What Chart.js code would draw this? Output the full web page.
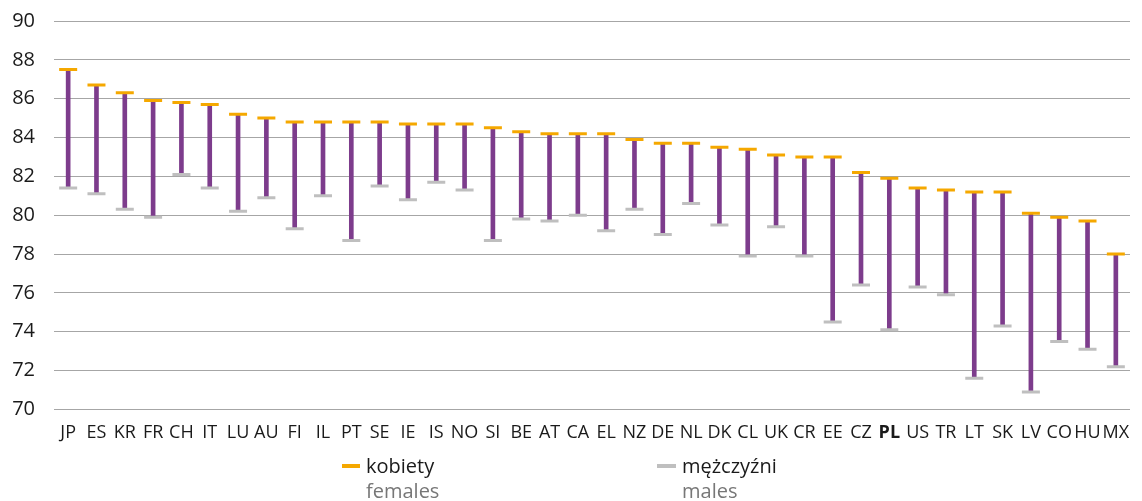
<!DOCTYPE html>
<html>
<head>
<meta charset="utf-8">
<script src="https://cdn.jsdelivr.net/npm/chart.js@4"></script>
<style>
  html, body { margin: 0; padding: 0; background: #ffffff; }
  body { width: 1142px; height: 501px; position: relative; overflow: hidden; font-family: "Open Sans", sans-serif; }
  #wrap { position: absolute; left: 0; top: 0; width: 1142px; height: 501px; }
  .key { position: absolute; font-size: 20px; line-height: 25px; color: #1a1a1a; white-space: nowrap; }
  .key .mark { position: absolute; top: 11px; height: 4px; }
  .key .sub { color: #777777; }
</style>
</head>
<body>
<div id="wrap"><canvas id="chart"></canvas></div>
<div class="key" style="left:366px; top:453px;"><span class="mark" style="left:-24px; width:18px; background:#F5A800"></span>kobiety<br><span class="sub">females</span></div>
<div class="key" style="left:682px; top:453px;"><span class="mark" style="left:-25px; width:19px; background:#BFBFBF"></span>mężczyźni<br><span class="sub">males</span></div>
<script>
// Life expectancy at birth by country: females vs males
const countries = ["JP","ES","KR","FR","CH","IT","LU","AU","FI","IL","PT","SE","IE","IS","NO","SI","BE","AT","CA","EL","NZ","DE","NL","DK","CL","UK","CR","EE","CZ","PL","US","TR","LT","SK","LV","CO","HU","MX"];
const females = [87.5,86.7,86.3,85.9,85.8,85.7,85.2,85.0,84.8,84.8,84.8,84.8,84.7,84.7,84.7,84.5,84.3,84.2,84.2,84.2,83.9,83.7,83.7,83.5,83.4,83.1,83.0,83.0,82.2,81.9,81.4,81.3,81.2,81.2,80.1,79.9,79.7,78.0];
const males = [81.4,81.1,80.3,79.9,82.1,81.4,80.2,80.9,79.3,81.0,78.7,81.5,80.8,81.7,81.3,78.7,79.8,79.7,80.0,79.2,80.3,79.0,80.6,79.5,77.9,79.4,77.9,74.5,76.4,74.1,76.3,75.9,71.6,74.3,70.9,73.5,73.1,72.2];
const yTicks = [70,72,74,76,78,80,82,84,86,88,90];

// gap between the two values, drawn as a thin floating bar
const gapRanges = countries.map((c, i) => [males[i], females[i]]);

new Chart(document.getElementById('chart'), {
  type: 'bar',
  data: {
    labels: countries,
    datasets: [
      {
        type: 'line',
        label: 'kobiety',
        data: females,
        showLine: false,
        pointStyle: 'line',
        pointRadius: 9,
        pointBorderWidth: 3,
        pointBorderColor: '#F5A800',
        pointBackgroundColor: '#F5A800',
        order: 1
      },
      {
        type: 'line',
        label: 'mężczyźni',
        data: males,
        showLine: false,
        pointStyle: 'line',
        pointRadius: 9,
        pointBorderWidth: 3,
        pointBorderColor: '#BFBFBF',
        pointBackgroundColor: '#BFBFBF',
        order: 2
      },
      {
        type: 'bar',
        label: 'range',
        data: gapRanges,
        backgroundColor: '#7D3C8C',
        borderWidth: 0,
        borderSkipped: false,
        barThickness: 4,
        order: 3
      }
    ]
  },
  options: {
    responsive: true,
    maintainAspectRatio: false,
    animation: false,
    layout: { padding: { top: 21, right: 6, left: 0, bottom: 52 } },
    plugins: {
      legend: { display: false },
      tooltip: { enabled: false }
    },
    scales: {
      x: {
        grid: { display: false },
        border: { display: false },
        afterFit: (s) => { s.paddingLeft = 0; s.paddingRight = 0; },
        ticks: {
          color: '#1a1a1a',
          padding: 5,
          maxRotation: 0,
          autoSkip: false,
          font: (ctx) => ({
            family: '"Open Sans", sans-serif',
            size: 18,
            weight: countries[ctx.index] === 'PL' ? 'bold' : 'normal'
          })
        }
      },
      y: {
        min: 70,
        max: 90,
        afterBuildTicks: (axis) => { axis.ticks = yTicks.map(v => ({ value: v })); },
        afterFit: (s) => { s.width = 54; s.paddingTop = 0; s.paddingBottom = 0; },
        grid: { color: '#A6A6A6', lineWidth: 1, drawTicks: false },
        border: { display: false },
        ticks: {
          color: '#1a1a1a',
          padding: 19,
          font: { family: '"Open Sans", sans-serif', size: 20 }
        }
      }
    }
  }
});
</script>
</body>
</html>
